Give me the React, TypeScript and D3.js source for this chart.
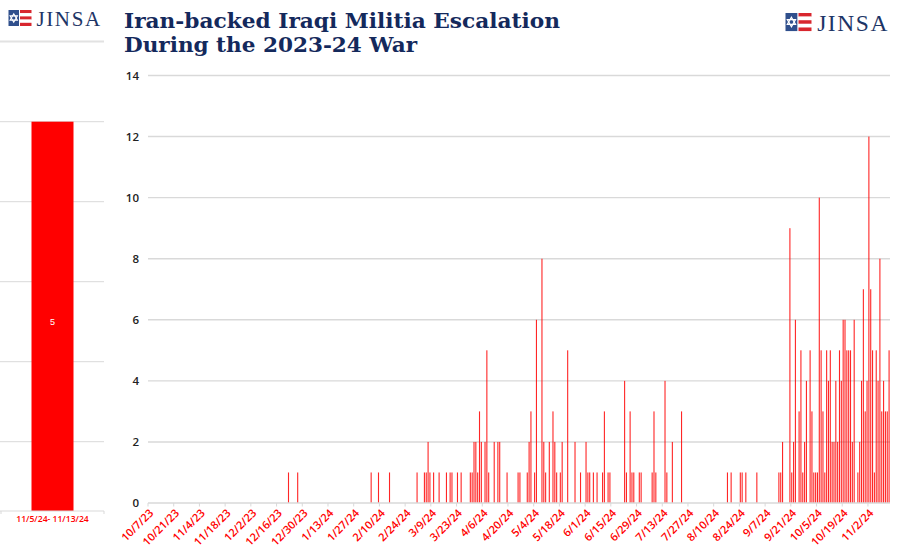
import React from "react";
import * as d3 from "d3";

const startDate = "2023-10-07";
const endDate = "2024-11-13";

const eventDates = [
  "2023-12-22", "2023-12-27",
  "2024-02-05", "2024-02-09", "2024-02-15",
  "2024-03-01", "2024-03-05", "2024-03-06", "2024-03-07", "2024-03-08", "2024-03-10", "2024-03-13",
  "2024-03-17", "2024-03-19", "2024-03-20", "2024-03-23", "2024-03-25", "2024-03-30", "2024-03-31",
  "2024-04-01", "2024-04-02", "2024-04-03", "2024-04-04", "2024-04-05", "2024-04-07", "2024-04-08",
  "2024-04-09", "2024-04-12", "2024-04-14", "2024-04-15", "2024-04-19", "2024-04-25", "2024-04-26",
  "2024-04-30", "2024-05-01", "2024-05-02", "2024-05-04", "2024-05-05", "2024-05-08", "2024-05-09",
  "2024-05-10", "2024-05-12", "2024-05-14", "2024-05-15", "2024-05-16", "2024-05-18", "2024-05-19",
  "2024-05-22", "2024-05-26", "2024-05-29", "2024-06-01", "2024-06-02", "2024-06-03", "2024-06-05",
  "2024-06-07", "2024-06-10", "2024-06-11", "2024-06-13", "2024-06-14", "2024-06-22", "2024-06-23",
  "2024-06-25", "2024-06-26", "2024-06-27", "2024-06-30", "2024-07-01", "2024-07-07", "2024-07-08",
  "2024-07-09", "2024-07-14", "2024-07-15", "2024-07-18", "2024-07-23",
  "2024-08-17", "2024-08-19", "2024-08-24", "2024-08-25", "2024-08-27",
  "2024-09-02", "2024-09-14", "2024-09-15", "2024-09-16", "2024-09-20", "2024-09-21", "2024-09-22",
  "2024-09-23", "2024-09-25", "2024-09-26", "2024-09-27", "2024-09-28", "2024-09-29",
  "2024-10-01", "2024-10-02", "2024-10-03", "2024-10-04", "2024-10-05", "2024-10-06", "2024-10-07",
  "2024-10-08", "2024-10-09", "2024-10-10", "2024-10-11", "2024-10-12", "2024-10-13", "2024-10-14",
  "2024-10-15", "2024-10-16", "2024-10-17", "2024-10-18", "2024-10-19", "2024-10-20", "2024-10-21",
  "2024-10-22", "2024-10-23", "2024-10-24", "2024-10-25", "2024-10-27", "2024-10-28", "2024-10-29",
  "2024-10-30", "2024-10-31", "2024-11-01", "2024-11-02", "2024-11-03", "2024-11-04", "2024-11-05",
  "2024-11-06", "2024-11-07", "2024-11-08", "2024-11-09", "2024-11-10", "2024-11-11", "2024-11-12",
  "2024-11-13",
];

const eventCounts = [
  1, 1,
  1, 1, 1,
  1, 1, 1, 2, 1, 1, 1,
  1, 1, 1, 1, 1, 1, 1,
  2, 2, 1, 3, 2, 2, 5,
  1, 2, 2, 2, 1, 1, 1,
  1, 2, 3, 1, 6, 8, 2,
  1, 2, 3, 2, 1, 1, 2,
  5, 2, 1, 2, 1, 1, 1,
  1, 1, 3, 1, 1, 4, 1,
  3, 1, 1, 1, 1, 1, 3,
  1, 4, 1, 2, 3,
  1, 1, 1, 1, 1,
  1, 1, 1, 2, 9, 1, 2,
  6, 3, 5, 1, 2, 4,
  5, 3, 1, 1, 1, 10, 5,
  3, 1, 5, 4, 5, 2, 2,
  4, 2, 5, 4, 6, 6, 5,
  5, 5, 2, 6, 1, 2, 4,
  7, 3, 4, 12, 7, 5, 1,
  5, 4, 8, 3, 4, 3, 3,
  5,
];

const yTicks = [0, 2, 4, 6, 8, 10, 12, 14];
const labelEvery = 14;
const titleLines = ["Iran-backed Iraqi Militia Escalation", "During the 2023-24 War"];
const insetCategories = ["11/5/24- 11/13/24"];
const insetValues = [5];
const insetGridTicks = [1, 2, 3, 4, 5];
const brandName = "JINSA";

const RED = "#ff0000";
const NAVY = "#14295c";
const GRID = "#d9d9d9";

function Logo({ x, y, s, fontSize, spacing }: { x: number; y: number; s: number; fontSize: number; spacing: number }) {
  const w = 23 * s;
  const h = 16 * s;
  const bw = 10.5 * s;
  const stripes = 5;
  const sh = h / stripes;
  const cx = x + bw / 2;
  const cy = y + h / 2;
  const r = 4.2 * s;
  const tri = (rot: number) =>
    d3.range(3).map(i => {
      const a = rot + (i * 2 * Math.PI) / 3;
      return `${cx + r * Math.sin(a)},${cy - r * Math.cos(a)}`;
    }).join(" ");
  return (
    <g>
      <rect x={x} y={y} width={bw} height={h} fill="#2f4f8c" />
      <polygon points={tri(0)} fill="none" stroke="#fff" strokeWidth={1.1 * s} />
      <polygon points={tri(Math.PI)} fill="none" stroke="#fff" strokeWidth={1.1 * s} />
      {d3.range(stripes).map(i => (
        <rect key={i} x={x + bw + 1 * s} y={y + i * sh} width={w - bw - 1 * s} height={sh}
          fill={i % 2 === 0 ? "#d8262e" : "#fff"} />
      ))}
      <text x={x + w + 5 * s} y={y + h - 0.5} fontFamily="'Liberation Serif', serif" fontSize={fontSize}
        letterSpacing={spacing} fill="#1d3566">{brandName}</text>
    </g>
  );
}

export default function App() {
  const parse = d3.timeParse("%Y-%m-%d");
  const fmt = d3.timeFormat("%-m/%-d/%y");
  const start = parse(startDate)!;
  const end = parse(endDate)!;
  const days = d3.timeDay.range(start, d3.timeDay.offset(end, 1));
  const keys = days.map(d => +d);

  const x = d3.scaleBand<number>().domain(keys).range([148, 890]).padding(0);
  const y = d3.scaleLinear().domain([0, 14]).range([503, 75.5]);
  const countMap = new Map<number, number>(eventDates.map((s, i) => [+parse(s)!, eventCounts[i]]));
  const barW = Math.max(1, x.bandwidth() * 0.6);

  // inset panel
  const xi = d3.scaleBand<string>().domain(insetCategories).range([0, 105]).paddingInner(0.6).paddingOuter(0.3);
  const yi = d3.scaleLinear().domain([0, 5]).range([521.7, 121.7]);
  const insetAxisY = 511;

  const tickKeys = keys.filter((_, i) => i % labelEvery === 0);

  return (
    <svg width={908} height={551} style={{ position: "absolute", left: 0, top: 0, background: "#fff" }}
      xmlns="http://www.w3.org/2000/svg">
      <rect x={0} y={0} width={908} height={551} fill="#fff" />

      {/* Logos */}
      <Logo x={8.5} y={10} s={1} fontSize={21} spacing={1.6} />
      <Logo x={785.5} y={13} s={1.13} fontSize={23.5} spacing={1.6} />
      <line x1={0} x2={104} y1={41.5} y2={41.5} stroke="#e2e2e2" strokeWidth={2} />

      {/* Title */}
      {titleLines.map((t, i) => (
        <text key={i} x={124} y={28 + i * 23.5} fontFamily="'DejaVu Serif', serif" fontWeight="bold"
          fontSize={21} fill={NAVY} textLength={i === 0 ? 436 : 293} lengthAdjust="spacingAndGlyphs">{t}</text>
      ))}

      {/* Inset panel */}
      {insetGridTicks.map(t => (
        <line key={t} x1={0} x2={104} y1={yi(t)} y2={yi(t)} stroke={GRID} strokeWidth={1} />
      ))}
      {insetCategories.map((c, i) => (
        <g key={c}>
          <rect x={xi(c)!} y={yi(insetValues[i])} width={xi.bandwidth()} height={insetAxisY - yi(insetValues[i])} fill={RED} />
          <text x={xi(c)! + xi.bandwidth() / 2} y={yi(insetValues[i] / 2)} dy="0.35em" textAnchor="middle"
            fontFamily="'Liberation Sans', sans-serif" fontSize={9} fill="#fff">{insetValues[i]}</text>
          <text x={xi(c)! + xi.bandwidth() / 2} y={insetAxisY + 8} dy="0.35em" textAnchor="middle"
            fontFamily="'Open Sans', sans-serif" fontWeight={600} fontSize={8.6} fill={RED}>{c}</text>
        </g>
      ))}
      <line x1={0} x2={104} y1={insetAxisY} y2={insetAxisY} stroke={GRID} strokeWidth={1} />
      <line x1={1} x2={1} y1={insetAxisY} y2={insetAxisY + 3} stroke={GRID} />
      <line x1={104} x2={104} y1={insetAxisY} y2={insetAxisY + 3} stroke={GRID} />

      {/* Main gridlines */}
      {yTicks.map(t => (
        <g key={t}>
          {t > 0 && <line x1={148} x2={890} y1={y(t)} y2={y(t)} stroke={GRID} strokeWidth={1.4} />}
          <text x={139} y={y(t)} dy="0.35em" textAnchor="end" fontFamily="'Open Sans', sans-serif"
            fontWeight={600} fontSize={11.5} fill="#222">{t}</text>
        </g>
      ))}

      {/* Bars */}
      {keys.map(k => {
        const v = countMap.get(k) || 0;
        if (!v) return null;
        const cx = x(k)! + x.bandwidth() / 2;
        return <rect key={k} x={cx - barW / 2} y={y(v)} width={barW} height={y(0) - y(v)} fill={RED} opacity={0.85} />;
      })}

      {/* X axis */}
      <line x1={148} x2={890} y1={y(0)} y2={y(0)} stroke={GRID} strokeWidth={1.4} />
      {tickKeys.map(k => (
        <g key={k}>
          <line x1={x(k)!} x2={x(k)!} y1={y(0)} y2={y(0) + 3.5} stroke={GRID} strokeWidth={1} />
          <text transform={`translate(${x(k)! + 3.5},${y(0) + 8}) rotate(-45)`} textAnchor="end" dy="0.35em"
            fontFamily="'Open Sans', sans-serif" fontWeight={600} fontSize={11} fill={RED}>{fmt(new Date(k))}</text>
        </g>
      ))}
    </svg>
  );
}
